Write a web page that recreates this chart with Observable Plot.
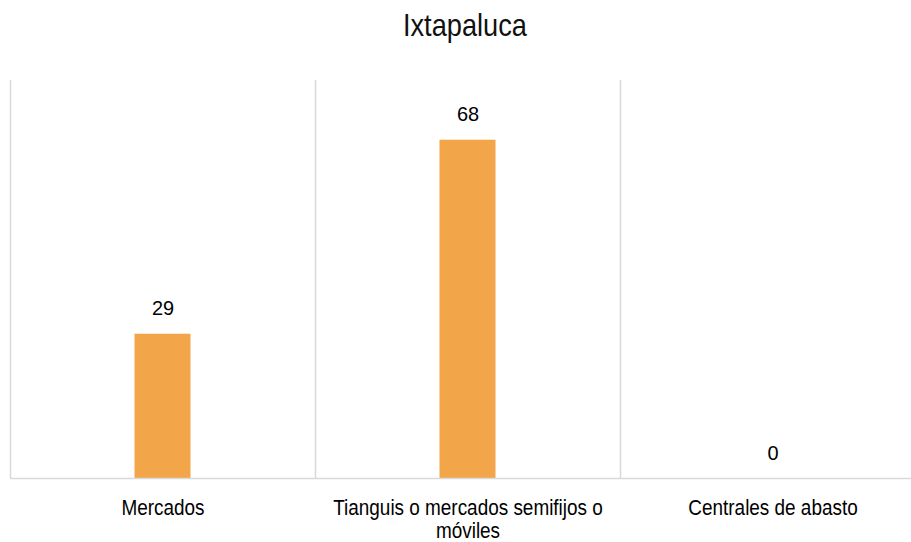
<!DOCTYPE html>
<html>
<head>
<meta charset="utf-8">
<script src="https://cdn.jsdelivr.net/npm/d3@7"></script>
<script src="https://cdn.jsdelivr.net/npm/@observablehq/plot@0.6"></script>
<style>
  body { margin: 0; background: #fff; font-family: "Liberation Sans", Arial, sans-serif; }
  #title { height: 60px; line-height: 50px; text-align: center; font-size: 32px; color: #111; padding-left: 19px; box-sizing: border-box; width: 911px; }
  #title span { display: inline-block; transform: scaleX(0.85); }
</style>
</head>
<body>
<div id="title"><span>Ixtapaluca</span></div>
<div id="chart"></div>
<script>
const categories = ["Mercados", "Tianguis o mercados semifijos o móviles", "Centrales de abasto"];
const values = [29, 68, 0];
const tickLabels = ["Mercados", "Tianguis o mercados semifijos o\nmóviles", "Centrales de abasto"];

const data = categories.map((c, i) => ({category: c, value: values[i]}));
const labelOf = new Map(categories.map((c, i) => [c, tickLabels[i]]));

const chart = Plot.plot({
  width: 911,
  height: 482,
  marginTop: 20,
  marginBottom: 64,
  marginLeft: 10,
  marginRight: 0,
  style: {fontFamily: "'Liberation Sans', Arial, sans-serif", background: "#fff"},
  x: {domain: categories, range: [10, 925], padding: 0},
  y: {domain: [0, 80], axis: null},
  marks: [
    Plot.ruleX(categories, {x: d => d, y1: 0, y2: 80, dx: -152.5, stroke: "#d9d9d9", strokeWidth: 1.5}),
    Plot.barY(data, {x: "category", y: "value", fill: "#F3A649", insetLeft: 124.5, insetRight: 124.5}),
    Plot.ruleY([0], {stroke: "#d9d9d9", strokeWidth: 1.5}),
    Plot.text(data, {x: "category", y: "value", text: d => String(d.value), dy: -25.5, fontSize: 21, fill: "#000", className: "vlabel"}),
    Plot.axisX({tickSize: 0, tickPadding: 21, fontSize: 22, lineHeight: 1.02, tickFormat: d => labelOf.get(d), lineAnchor: "top", fill: "#000", label: null})
  ]
});
document.getElementById("chart").appendChild(chart);

// condense glyphs horizontally, like the reference's narrow rendering
chart.querySelectorAll("text").forEach(t => {
  const squeeze = t.closest(".vlabel") ? 0.95 : 0.86;
  const spans = t.querySelectorAll("tspan");
  const targets = spans.length ? Array.from(spans) : [t];
  targets.forEach(el => {
    const len = el.getComputedTextLength();
    if (len > 0) {
      el.setAttribute("textLength", (len * squeeze).toFixed(2));
      el.setAttribute("lengthAdjust", "spacingAndGlyphs");
    }
  });
});
</script>
</body>
</html>
